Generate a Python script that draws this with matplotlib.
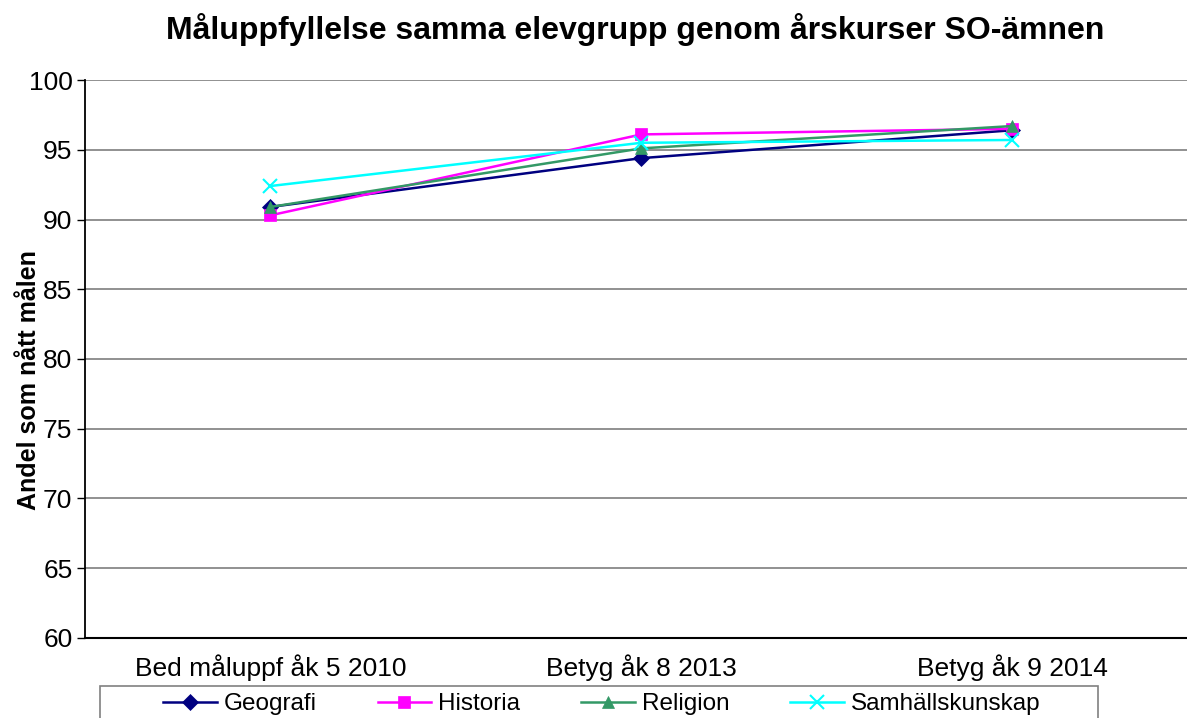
import numpy as np
import matplotlib.pyplot as plt
from matplotlib.patches import Rectangle

plt.rcParams['font.family'] = ['Liberation Sans', 'DejaVu Sans']

categories = ['Bed måluppf åk 5 2010', 'Betyg åk 8 2013', 'Betyg åk 9 2014']
geografi = [90.9, 94.4, 96.4]
historia = [90.3, 96.1, 96.5]
religion = [90.9, 95.1, 96.7]
samhall = [92.4, 95.5, 95.7]

series = [
    ('Geografi', geografi, '#000080', 'D', 8),
    ('Historia', historia, '#FF00FF', 's', 9),
    ('Religion', religion, '#339966', '^', 9),
    ('Samhällskunskap', samhall, '#00FFFF', 'x', 10),
]

W, H = 1187, 718
fig = plt.figure(figsize=(W / 100, H / 100), dpi=100)
ax = fig.add_axes([85 / W, (H - 638) / H, 1113 / W, (638 - 80) / H])

x = np.arange(len(categories))
for name, vals, col, mk, ms in series:
    ax.plot(x, vals, color=col, lw=1.8, marker=mk, markersize=ms,
            markeredgewidth=1.5 if mk == 'x' else 0.5, label=name)

ax.set_xlim(-0.5, 2.5)
ax.set_ylim(60, 100)
ax.set_yticks(np.arange(60, 101, 5))
ax.set_xticks(x)
ax.set_xticklabels(categories)
ax.tick_params(axis='x', length=0, labelsize=19, pad=12)
ax.tick_params(axis='y', length=6, width=1, labelsize=19, pad=3, direction='out')
ax.grid(axis='y', color='#888888', lw=1.3)
ax.set_axisbelow(True)
for s in ['top', 'right']:
    ax.spines[s].set_visible(False)
ax.spines['left'].set_linewidth(1.3)
ax.spines['bottom'].set_linewidth(1.5)

fig.text(29 / W, 1 - 380 / H, 'Andel som nått målen', rotation=90, ha='center',
         va='center', fontsize=18, fontweight='bold')
fig.text(635 / W, 1 - 30 / H, 'Måluppfyllelse samma elevgrupp genom årskurser SO-ämnen',
         ha='center', va='center', fontsize=23, fontweight='bold')

# legend box (Excel style, runs off the bottom edge)
fig.patches.append(Rectangle((100 / W, -0.05), 998 / W, 0.05 + (H - 686) / H,
                             transform=fig.transFigure, fill=False,
                             edgecolor='#808080', lw=1.2))
fig.legend(loc='center', bbox_to_anchor=(602 / W, 1 - 704 / H), ncol=4,
           fontsize=17.5, frameon=False, handlelength=2.2,
           handletextpad=0.3, columnspacing=2.5, borderpad=0,
           borderaxespad=0)

fig.savefig('out.png', dpi=100)
